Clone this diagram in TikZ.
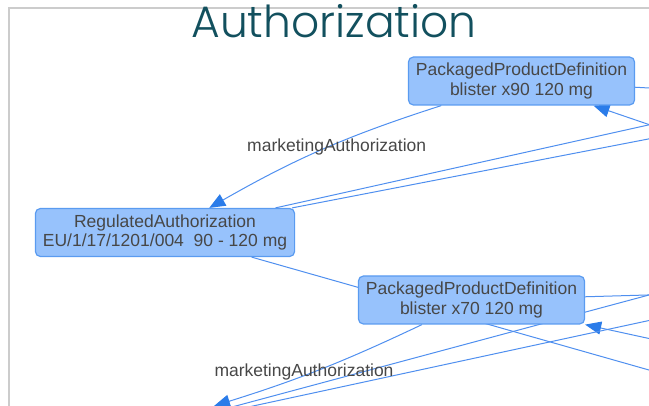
\documentclass[tikz,border=0pt]{standalone}
\usepackage{fontspec}
\setmainfont{Liberation Sans}
\newfontfamily\titlefont{Poppins Light}
\usetikzlibrary{arrows.meta,backgrounds}

\definecolor{nodefill}{HTML}{97C2FC}
\definecolor{nodeline}{HTML}{5A9BF0}
\definecolor{nodetext}{HTML}{474747}
\definecolor{linkblue}{HTML}{4F8FEF}
\definecolor{tipblue}{HTML}{2B7CE9}
\definecolor{titleteal}{HTML}{12505E}
\definecolor{framegray}{HTML}{CCCCCC}

\begin{document}
\begin{tikzpicture}[x=1pt,y=-1pt,
    entity/.style={shape=rectangle,rounded corners=5pt,draw=nodeline,line width=1.2pt,
      fill=nodefill,text=nodetext,align=center,font=\fontsize{17.5}{19.5}\selectfont,
      inner xsep=7.5pt,inner ysep=0pt,minimum height=48pt},
    link/.style={color=linkblue,line width=1pt},
    arrowed/.style={link,-{Triangle[length=16pt,width=13pt,color=tipblue]}},
    edgelabel/.style={text=nodetext,font=\fontsize{17.5}{19.5}\selectfont,anchor=base,inner sep=0pt}]

\useasboundingbox (0,0) rectangle (649,406);

% title
\node[text=titleteal,font=\titlefont\fontsize{44}{44}\selectfont,anchor=base,inner sep=0pt] (title) at (334,38) {Authorization};

% nodes
\node[entity] (PPD90) at (521.5,81) {PackagedProductDefinition\\blister x90 120 mg};
\node[entity] (RA) at (165,232.5) {RegulatedAuthorization\\EU/1/17/1201/004~~90 - 120 mg};
\node[entity] (PPD70) at (471.5,300) {PackagedProductDefinition\\blister x70 120 mg};

% ends outside the view
\coordinate (R1) at (700,90.8);
\coordinate (R2) at (700,142);
\coordinate (R3) at (700,113.5);
\coordinate (R4) at (700,129);
\coordinate (R5) at (700,293.5);
\coordinate (R6) at (700,349.6);
\coordinate (R7) at (700,384.5);
\coordinate (R8) at (700,281.3);
\coordinate (R9) at (700,309.5);
\coordinate (RA2) at (165,425);
\coordinate (RA2top) at (214,406);

\begin{pgfonlayer}{background}
    \draw[framegray,line width=2pt] (9,407) -- (9,8) -- (650,8);

    \path[arrowed] (PPD90) edge[bend right=6] (RA);
    \path[link] (PPD90) edge (R1);
    \path[arrowed] (R2) edge (PPD90);
    \path[link] (RA) edge (R3);
    \path[link] (RA) edge (R4);
    \path[link] (RA) edge (R7);

    \path[arrowed] (PPD70) edge[bend left=4] (RA2top);
    \path[link] (PPD70) edge (R5);
    \path[arrowed] (R6) edge (PPD70);
    \path[link] (RA2) edge (R8);
    \path[link] (RA2) edge (R9);
\end{pgfonlayer}

% edge labels
\node[edgelabel] (lab90) at (336.7,151.7) {marketingAuthorization};
\node[edgelabel] (lab70) at (304,376.7) {marketingAuthorization};
\end{tikzpicture}
\end{document}
